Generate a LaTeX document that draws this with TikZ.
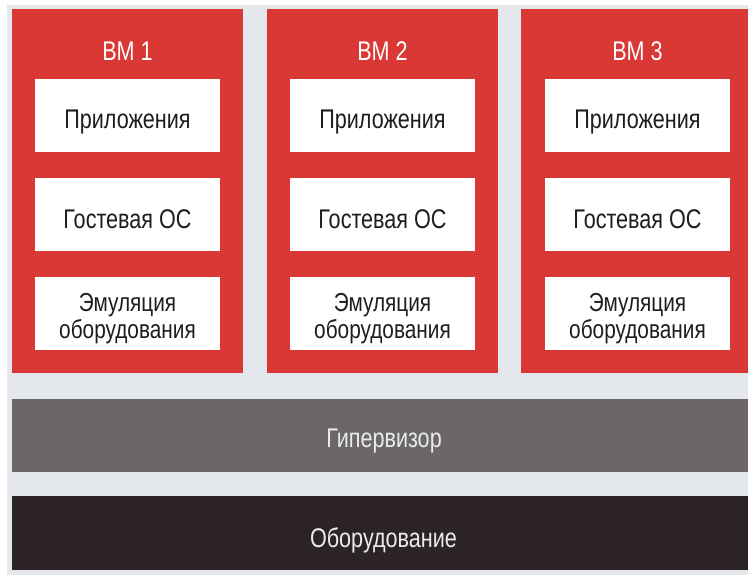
\documentclass[tikz,border=0pt]{standalone}
\usepackage{fontspec}
\setmainfont[FakeStretch=0.8]{Liberation Sans}
\definecolor{bgc}{HTML}{E4E7EC}
\definecolor{vmred}{HTML}{D93834}
\definecolor{hypc}{HTML}{6B6767}
\definecolor{hwc}{HTML}{2B2324}
\definecolor{txt}{HTML}{1E1E1E}
\tikzset{
  vmbox/.style={rectangle, fill=vmred, inner sep=0pt, minimum height=364pt},
  inbox/.style={rectangle, fill=white, inner sep=0pt, minimum width=185pt, minimum height=73pt},
  lbl/.style={anchor=base, inner sep=0pt, text=txt, font=\fontsize{27}{21}\selectfont},
  lbltwo/.style={lbl, font=\fontsize{26}{21}\selectfont},
  vmtitle/.style={anchor=base, text=white, font=\fontsize{27}{21}\selectfont, inner sep=0pt},
  layer/.style={rectangle, inner sep=0pt, minimum width=736pt},
  layertext/.style={anchor=base, inner sep=0pt, text=white!92!black, font=\fontsize{27}{21}\selectfont}
}
\begin{document}
\begin{tikzpicture}[x=1pt,y=-1pt]
\useasboundingbox (0,0) rectangle (748,575);
\fill[white] (0,0) rectangle (748,575);
\fill[bgc] (7,5) rectangle (748,575);
% VMs
\node[vmbox, minimum width=231pt] (vm1) at (127.5,191) {};
\node[vmbox, minimum width=231pt] (vm2) at (382.5,191) {};
\node[vmbox, minimum width=227pt] (vm3) at (634.5,191) {};
\node[vmtitle] (t1) at (127.5,61) {ВМ 1};
\node[vmtitle] (t2) at (382.5,61) {ВМ 2};
\node[vmtitle] (t3) at (637.5,61) {ВМ 3};
% inner boxes
\foreach \n/\x in {1/127.5, 2/382.5, 3/637.5}{
  \node[inbox] (a\n) at (\x,115.5) {};
  \node[inbox] (g\n) at (\x,214.5) {};
  \node[inbox] (e\n) at (\x,313.5) {};
  \node[lbl] (la\n) at (\x,129) {Приложения};
  \node[lbl] (lg\n) at (\x,229) {Гостевая ОС};
  \node[lbltwo] (le\n) at (\x,312) {Эмуляция};
  \node[lbltwo] (lo\n) at (\x,338) {оборудования};
}
% layers
\node[layer, fill=hypc, minimum height=73pt] (hyp) at (380,435.5) {};
\node[layer, fill=hwc, minimum height=74pt] (hw) at (380,533) {};
\node[layertext] (lhyp) at (384,447) {Гипервизор};
\node[layertext] (lhw) at (383.5,547) {Оборудование};
\end{tikzpicture}
\end{document}
